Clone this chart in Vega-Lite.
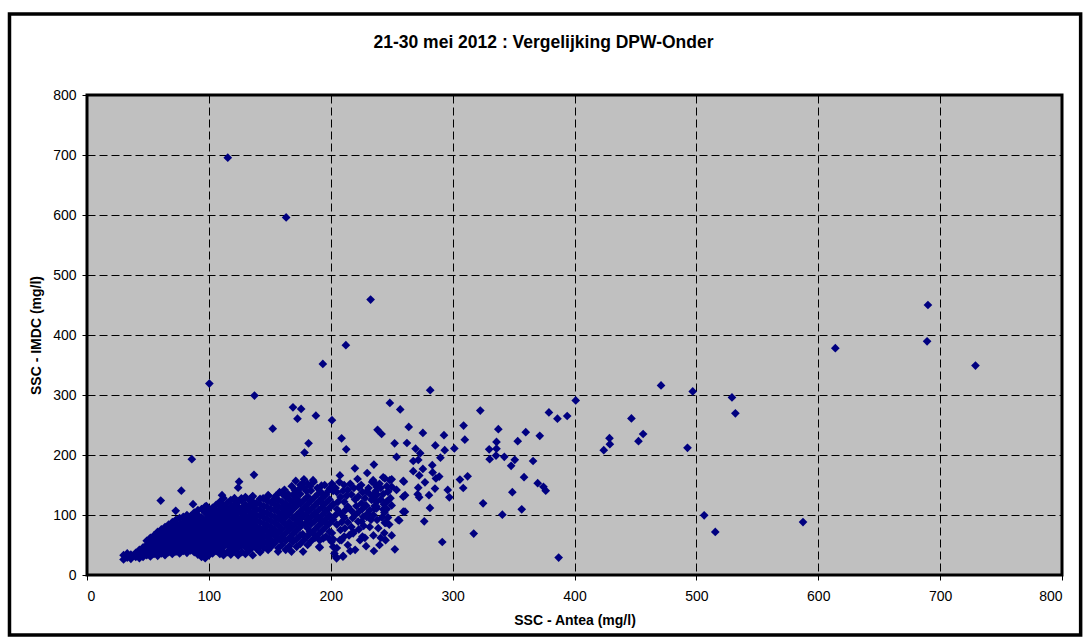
{
"$schema":"https://vega.github.io/schema/vega-lite/v6.json",
"width":975,"height":480,
"autosize":{"type":"none"},
"padding":{"left":87,"top":95,"right":26,"bottom":69},
"background":"white",
"title":{"text":"21-30 mei 2012 : Vergelijking DPW-Onder","font":"Liberation Sans","fontSize":17.5,"fontWeight":"bold","color":"black","offset":-39,"dx":-31},
"config":{"view":{"fill":"#C0C0C0","stroke":"black","strokeWidth":3}},
"layer":[
{"data":{"values":[{}]},
 "mark":{"type":"rect","fill":null,"filled":false,"stroke":"black","strokeWidth":3.5,"clip":false},
 "encoding":{"x":{"datum":-63.6,"type":"quantitative","scale":{"domain":[0,800],"nice":false}},"x2":{"datum":815.3},"y":{"datum":935,"type":"quantitative","scale":{"domain":[0,800],"nice":false}},"y2":{"datum":-100}}},
{"data":{"values":[
{"x":115.5,"y":695.5},{"x":163.4,"y":596},{"x":232.7,"y":459},{"x":212.4,"y":383},{"x":193.5,"y":351.7},{"x":100.4,"y":319},{"x":137.4,"y":299},
{"x":690,"y":450},{"x":689.3,"y":389.5},{"x":729,"y":349},{"x":614,"y":378},{"x":529.2,"y":296},{"x":532,"y":269.5},{"x":506.4,"y":99.5},{"x":515.5,"y":71.7},{"x":587.5,"y":88.3},
{"x":471,"y":316},{"x":497,"y":306},{"x":401,"y":291},{"x":379,"y":271},{"x":386,"y":260.5},{"x":394,"y":265},{"x":360,"y":238},{"x":353.4,"y":223},{"x":371.5,"y":232},{"x":446.7,"y":261},{"x":428.7,"y":228},{"x":429,"y":218},{"x":424,"y":208},{"x":456.3,"y":235},{"x":452.5,"y":223},{"x":492.7,"y":212},{"x":351,"y":192},{"x":348,"y":182},{"x":366,"y":190},{"x":358.6,"y":163},{"x":369.8,"y":153},{"x":374.5,"y":147},{"x":376.4,"y":140.5},{"x":349,"y":138},{"x":356.7,"y":109.5},{"x":387,"y":29},
{"x":281.6,"y":308},{"x":248.5,"y":286.7},{"x":257,"y":276},{"x":322.7,"y":274},{"x":238.4,"y":242},{"x":241.7,"y":235},{"x":264,"y":246.7},{"x":275.6,"y":236.7},{"x":309,"y":249},{"x":337.5,"y":243},{"x":252.4,"y":219.5},{"x":262.5,"y":220},{"x":292.9,"y":233},{"x":285.8,"y":216},{"x":310,"y":225.5},{"x":269.6,"y":210.5},{"x":273.4,"y":203},{"x":293.5,"y":208},{"x":301.4,"y":211},{"x":254,"y":196.7},{"x":290,"y":195.5},{"x":267.7,"y":190},{"x":271.8,"y":191.7},{"x":330,"y":209.5},{"x":336,"y":221.7},{"x":336,"y":210.5},{"x":335.6,"y":199},{"x":330.4,"y":193},{"x":342.4,"y":197},{"x":235.4,"y":184},{"x":275.6,"y":176.7},{"x":283.3,"y":183},{"x":283.6,"y":171},{"x":267.7,"y":173},{"x":272.6,"y":166},
{"x":234.8,"y":158},{"x":237.6,"y":147},{"x":244.4,"y":161},{"x":248.5,"y":158},{"x":250,"y":147},{"x":247,"y":139},{"x":236,"y":136},{"x":233.5,"y":125},{"x":259.5,"y":156.7},{"x":271.8,"y":145.5},{"x":277.3,"y":154.5},{"x":286.3,"y":161},{"x":289,"y":164},{"x":285.5,"y":144},{"x":296,"y":141.7},{"x":297.3,"y":129.5},{"x":306,"y":159},{"x":308.7,"y":145},{"x":312.3,"y":164.5},{"x":259.5,"y":130.5},{"x":271.3,"y":134.5},{"x":272.6,"y":129.5},{"x":280.6,"y":133},{"x":243.6,"y":118},{"x":243,"y":109.5},{"x":236.2,"y":111},{"x":281.4,"y":111.7},{"x":260.9,"y":105.5},{"x":256.2,"y":91},{"x":276.7,"y":89.5},{"x":245.3,"y":87},{"x":340.8,"y":100.5},{"x":325,"y":119.5},{"x":317.3,"y":69},{"x":291.5,"y":55},{"x":235.4,"y":40},{"x":252.6,"y":42.8},
{"x":169,"y":279.5},{"x":175.7,"y":276.7},{"x":172.7,"y":260.5},{"x":187.8,"y":265.5},{"x":201,"y":258},{"x":152.4,"y":243.8},{"x":181.8,"y":219.5},{"x":178.5,"y":204},{"x":208.9,"y":227.8},{"x":212.7,"y":209.5},{"x":219.8,"y":177.8},{"x":229.9,"y":170},{"x":207.5,"y":166},{"x":137,"y":167},{"x":124.8,"y":155.5},{"x":124,"y":145.5},{"x":171.3,"y":156.7},{"x":178,"y":159.5},{"x":185.5,"y":158},{"x":170.5,"y":141.7},{"x":183.7,"y":140.5},{"x":192.4,"y":148.8},{"x":199.3,"y":144.5},{"x":148.6,"y":133},{"x":144.5,"y":127.8},{"x":135.8,"y":130.5},{"x":126.7,"y":127.8},{"x":118.5,"y":113.8},
{"x":86,"y":193},{"x":60.5,"y":124},{"x":77.4,"y":140.5},{"x":72.8,"y":107},{"x":87,"y":118},{"x":98,"y":115},{"x":110.8,"y":133},{"x":136,"y":131.5},
{"x":243,"y":162.8},{"x":250,"y":159.5},{"x":260,"y":155.5},{"x":261,"y":133},{"x":259.5,"y":105.5},{"x":255.4,"y":91.7},{"x":244.4,"y":87},{"x":210,"y":30.5},{"x":204.8,"y":27.8},{"x":207.5,"y":58.3},{"x":218.4,"y":72},{"x":211.6,"y":77.8},{"x":226.6,"y":97},{"x":222.5,"y":89},{"x":237.6,"y":111},{"x":244.4,"y":108.3},{"x":245.8,"y":122},{"x":237.6,"y":122},{"x":225.3,"y":119.5},{"x":222.5,"y":130.5},{"x":229.4,"y":139},{"x":237.6,"y":150},{"x":247,"y":139},{"x":254,"y":141.7},{"x":193.8,"y":61},{"x":200.7,"y":55.5},{"x":191,"y":46},{"x":182.8,"y":72},{"x":176,"y":86},{"x":172,"y":47},{"x":177.3,"y":39},{"x":167.8,"y":39},{"x":156.8,"y":39},{"x":148.6,"y":41.7},
{"x":190.5,"y":47},{"x":202,"y":47},{"x":204.2,"y":30.5},{"x":210.2,"y":31.7},{"x":208.9,"y":58.3},{"x":218.4,"y":69.5},{"x":225.3,"y":89},{"x":229.4,"y":97},{"x":237.6,"y":114},
{"x":155,"y":132},{"x":158,"y":138},{"x":162,"y":142},{"x":165,"y":135},{"x":168,"y":148},{"x":171,"y":138},{"x":174,"y":143},{"x":177,"y":152},{"x":180,"y":140},{"x":183,"y":148},{"x":186,"y":155},{"x":189,"y":145},{"x":192,"y":138},{"x":195,"y":150},{"x":198,"y":140},{"x":201,"y":152},{"x":204,"y":145},{"x":207,"y":155},{"x":210,"y":140},{"x":213,"y":132},{"x":216,"y":152},{"x":219,"y":145},{"x":222,"y":160},{"x":225,"y":150},{"x":228,"y":128},{"x":231,"y":145},{"x":234,"y":155},{"x":237,"y":140},{"x":240,"y":152},{"x":243,"y":135},{"x":246,"y":148},{"x":249,"y":128},
{"x":201,"y":70},{"x":204,"y":100},{"x":206,"y":122},{"x":209,"y":88},{"x":212,"y":108},{"x":215,"y":66},{"x":218,"y":95},{"x":221,"y":115},{"x":224,"y":58},{"x":227,"y":82},{"x":230,"y":102},{"x":233,"y":92},{"x":236,"y":115},{"x":239,"y":78},{"x":242,"y":96},{"x":245,"y":58},{"x":248,"y":84},{"x":203,"y":36},{"x":216,"y":40},{"x":228,"y":62},{"x":240,"y":50},{"x":246,"y":110},
{"x":152,"y":75},{"x":156,"y":95},{"x":159,"y":58},{"x":162,"y":112},{"x":165,"y":80},{"x":168,"y":60},{"x":171,"y":93},{"x":174,"y":122},{"x":177,"y":68},{"x":179,"y":85},{"x":182,"y":108},{"x":185,"y":70},{"x":188,"y":98},{"x":191,"y":58},{"x":194,"y":118},{"x":197,"y":85},{"x":199,"y":60},
{"x":102,"y":90},{"x":105,"y":60},{"x":108,"y":118},{"x":111,"y":40},{"x":114,"y":86},{"x":117,"y":66},{"x":120,"y":104},{"x":123,"y":80},{"x":126,"y":56},{"x":129,"y":95},{"x":132,"y":112},{"x":135,"y":68},{"x":138,"y":90},{"x":141,"y":54},{"x":144,"y":102},{"x":147,"y":80},{"x":149,"y":132},
{"x":30,"y":26},{"x":30,"y":33},{"x":33,"y":29},{"x":33,"y":36},{"x":36,"y":27},{"x":36,"y":34},{"x":40,"y":30},{"x":40,"y":37},
{"x":43,"y":28},{"x":43,"y":35},{"x":43,"y":42},{"x":46,"y":30},{"x":46,"y":38},{"x":46,"y":46},
{"x":49,"y":33},{"x":49,"y":41},{"x":49,"y":50},{"x":49,"y":57},
{"x":52,"y":31},{"x":52,"y":39},{"x":52,"y":47},{"x":52,"y":55},{"x":52,"y":62},
{"x":55,"y":35},{"x":55,"y":43},{"x":55,"y":51},{"x":55,"y":59},{"x":55,"y":66},
{"x":58,"y":32},{"x":58,"y":40},{"x":58,"y":48},{"x":58,"y":56},{"x":58,"y":64},{"x":58,"y":72},
{"x":61,"y":36},{"x":61,"y":44},{"x":61,"y":52},{"x":61,"y":60},{"x":61,"y":68},{"x":61,"y":76},
{"x":64,"y":33},{"x":64,"y":41},{"x":64,"y":49},{"x":64,"y":57},{"x":64,"y":65},{"x":64,"y":73},{"x":64,"y":80},
{"x":67,"y":38},{"x":67,"y":46},{"x":67,"y":54},{"x":67,"y":62},{"x":67,"y":70},{"x":67,"y":78},{"x":67,"y":84},
{"x":70,"y":35},{"x":70,"y":43},{"x":70,"y":51},{"x":70,"y":59},{"x":70,"y":67},{"x":70,"y":75},{"x":70,"y":83},{"x":70,"y":88},
{"x":73,"y":39},{"x":73,"y":47},{"x":73,"y":55},{"x":73,"y":63},{"x":73,"y":71},{"x":73,"y":79},{"x":73,"y":87},{"x":73,"y":92},
{"x":76,"y":36},{"x":76,"y":44},{"x":76,"y":52},{"x":76,"y":60},{"x":76,"y":68},{"x":76,"y":76},{"x":76,"y":84},{"x":76,"y":95},
{"x":79,"y":40},{"x":79,"y":48},{"x":79,"y":56},{"x":79,"y":64},{"x":79,"y":72},{"x":79,"y":80},{"x":79,"y":88},{"x":79,"y":97},
{"x":82,"y":37},{"x":82,"y":45},{"x":82,"y":53},{"x":82,"y":61},{"x":82,"y":69},{"x":82,"y":77},{"x":82,"y":85},{"x":82,"y":93},{"x":82,"y":100},
{"x":85,"y":41},{"x":85,"y":49},{"x":85,"y":57},{"x":85,"y":65},{"x":85,"y":73},{"x":85,"y":81},{"x":85,"y":89},{"x":85,"y":98},
{"x":88,"y":38},{"x":88,"y":46},{"x":88,"y":54},{"x":88,"y":62},{"x":88,"y":70},{"x":88,"y":78},{"x":88,"y":86},{"x":88,"y":94},{"x":88,"y":104},
{"x":91,"y":34},{"x":91,"y":42},{"x":91,"y":50},{"x":91,"y":58},{"x":91,"y":66},{"x":91,"y":74},{"x":91,"y":82},{"x":91,"y":90},{"x":91,"y":100},{"x":91,"y":108},
{"x":94,"y":30},{"x":94,"y":39},{"x":94,"y":47},{"x":94,"y":55},{"x":94,"y":63},{"x":94,"y":71},{"x":94,"y":79},{"x":94,"y":87},{"x":94,"y":96},{"x":94,"y":110},
{"x":97,"y":28},{"x":97,"y":36},{"x":97,"y":44},{"x":97,"y":52},{"x":97,"y":60},{"x":97,"y":68},{"x":97,"y":76},{"x":97,"y":84},{"x":97,"y":92},{"x":97,"y":104},{"x":97,"y":114},
{"x":100,"y":33},{"x":100,"y":41},{"x":100,"y":49},{"x":100,"y":57},{"x":100,"y":65},{"x":100,"y":73},{"x":100,"y":81},{"x":100,"y":89},{"x":100,"y":98},{"x":100,"y":107},
{"x":103,"y":36},{"x":103,"y":45},{"x":103,"y":53},{"x":103,"y":61},{"x":103,"y":69},{"x":103,"y":77},{"x":103,"y":85},{"x":103,"y":94},{"x":103,"y":102},{"x":103,"y":112},
{"x":106,"y":40},{"x":106,"y":48},{"x":106,"y":56},{"x":106,"y":64},{"x":106,"y":72},{"x":106,"y":80},{"x":106,"y":88},{"x":106,"y":96},{"x":106,"y":106},{"x":106,"y":117},
{"x":109,"y":35},{"x":109,"y":43},{"x":109,"y":52},{"x":109,"y":60},{"x":109,"y":68},{"x":109,"y":76},{"x":109,"y":84},{"x":109,"y":92},{"x":109,"y":100},{"x":109,"y":110},{"x":109,"y":122},
{"x":112,"y":33},{"x":112,"y":47},{"x":112,"y":55},{"x":112,"y":63},{"x":112,"y":71},{"x":112,"y":79},{"x":112,"y":87},{"x":112,"y":95},{"x":112,"y":104},{"x":112,"y":115},{"x":112,"y":128},
{"x":115,"y":38},{"x":115,"y":51},{"x":115,"y":59},{"x":115,"y":67},{"x":115,"y":75},{"x":115,"y":83},{"x":115,"y":91},{"x":115,"y":99},{"x":115,"y":108},{"x":115,"y":120},
{"x":118,"y":34},{"x":118,"y":44},{"x":118,"y":55},{"x":118,"y":63},{"x":118,"y":71},{"x":118,"y":79},{"x":118,"y":87},{"x":118,"y":96},{"x":118,"y":104},{"x":118,"y":113},{"x":118,"y":125},
{"x":121,"y":40},{"x":121,"y":49},{"x":121,"y":58},{"x":121,"y":66},{"x":121,"y":74},{"x":121,"y":82},{"x":121,"y":91},{"x":121,"y":100},{"x":121,"y":109},{"x":121,"y":118},{"x":121,"y":128},
{"x":124,"y":33},{"x":124,"y":45},{"x":124,"y":54},{"x":124,"y":62},{"x":124,"y":70},{"x":124,"y":78},{"x":124,"y":87},{"x":124,"y":95},{"x":124,"y":105},{"x":124,"y":114},{"x":124,"y":122},
{"x":127,"y":38},{"x":127,"y":50},{"x":127,"y":60},{"x":127,"y":68},{"x":127,"y":76},{"x":127,"y":84},{"x":127,"y":93},{"x":127,"y":102},{"x":127,"y":111},{"x":127,"y":124},
{"x":130,"y":35},{"x":130,"y":46},{"x":130,"y":56},{"x":130,"y":64},{"x":130,"y":73},{"x":130,"y":82},{"x":130,"y":90},{"x":130,"y":99},{"x":130,"y":108},{"x":130,"y":117},{"x":130,"y":130},
{"x":133,"y":41},{"x":133,"y":52},{"x":133,"y":61},{"x":133,"y":70},{"x":133,"y":79},{"x":133,"y":88},{"x":133,"y":97},{"x":133,"y":106},{"x":133,"y":116},{"x":133,"y":125},
{"x":136,"y":33},{"x":136,"y":47},{"x":136,"y":57},{"x":136,"y":66},{"x":136,"y":75},{"x":136,"y":85},{"x":136,"y":94},{"x":136,"y":103},{"x":136,"y":113},{"x":136,"y":122},
{"x":139,"y":44},{"x":139,"y":53},{"x":139,"y":63},{"x":139,"y":72},{"x":139,"y":81},{"x":139,"y":91},{"x":139,"y":100},{"x":139,"y":110},{"x":139,"y":120},
{"x":142,"y":38},{"x":142,"y":49},{"x":142,"y":60},{"x":142,"y":69},{"x":142,"y":78},{"x":142,"y":88},{"x":142,"y":98},{"x":142,"y":108},{"x":142,"y":118},{"x":142,"y":127},
{"x":145,"y":45},{"x":145,"y":55},{"x":145,"y":65},{"x":145,"y":76},{"x":145,"y":86},{"x":145,"y":96},{"x":145,"y":105},{"x":145,"y":115},
{"x":148,"y":52},{"x":148,"y":62},{"x":148,"y":72},{"x":148,"y":83},{"x":148,"y":93},{"x":148,"y":103},{"x":148,"y":113},{"x":148,"y":123},
{"x":151,"y":47},{"x":151,"y":58},{"x":151,"y":69},{"x":151,"y":80},{"x":151,"y":90},{"x":151,"y":100},{"x":151,"y":110},{"x":151,"y":121},
{"x":154,"y":53},{"x":154,"y":65},{"x":154,"y":76},{"x":154,"y":87},{"x":154,"y":97},{"x":154,"y":108},{"x":154,"y":118},{"x":154,"y":128},
{"x":157,"y":45},{"x":157,"y":60},{"x":157,"y":71},{"x":157,"y":83},{"x":157,"y":95},{"x":157,"y":105},{"x":157,"y":115},{"x":157,"y":125},
{"x":160,"y":50},{"x":160,"y":64},{"x":160,"y":77},{"x":160,"y":90},{"x":160,"y":101},{"x":160,"y":112},{"x":160,"y":122},{"x":160,"y":136},
{"x":163,"y":42},{"x":163,"y":57},{"x":163,"y":70},{"x":163,"y":84},{"x":163,"y":96},{"x":163,"y":108},{"x":163,"y":119},{"x":163,"y":130},
{"x":166,"y":48},{"x":166,"y":62},{"x":166,"y":75},{"x":166,"y":88},{"x":166,"y":102},{"x":166,"y":114},{"x":166,"y":126},
{"x":169,"y":55},{"x":169,"y":68},{"x":169,"y":81},{"x":169,"y":95},{"x":169,"y":109},{"x":169,"y":121},{"x":169,"y":133},
{"x":172,"y":60},{"x":172,"y":74},{"x":172,"y":87},{"x":172,"y":100},{"x":172,"y":115},{"x":172,"y":128},
{"x":175,"y":52},{"x":175,"y":66},{"x":175,"y":80},{"x":175,"y":93},{"x":175,"y":106},{"x":175,"y":119},{"x":175,"y":135},{"x":175,"y":150},
{"x":178,"y":58},{"x":178,"y":99},{"x":178,"y":112},{"x":178,"y":125},{"x":178,"y":145},
{"x":181,"y":50},{"x":181,"y":65},{"x":181,"y":78},{"x":181,"y":92},{"x":181,"y":104},{"x":181,"y":118},{"x":181,"y":131},{"x":181,"y":152},
{"x":184,"y":57},{"x":184,"y":85},{"x":184,"y":97},{"x":184,"y":110},{"x":184,"y":124},
{"x":187,"y":62},{"x":187,"y":76},{"x":187,"y":90},{"x":187,"y":103},{"x":187,"y":116},{"x":187,"y":130},
{"x":190,"y":68},{"x":190,"y":82},{"x":190,"y":95},{"x":190,"y":108},{"x":190,"y":122},{"x":190,"y":136},
{"x":193,"y":74},{"x":193,"y":88},{"x":193,"y":100},{"x":193,"y":113},{"x":193,"y":128},
{"x":196,"y":64},{"x":196,"y":80},{"x":196,"y":93},{"x":196,"y":106},{"x":196,"y":120},{"x":196,"y":134},
{"x":199,"y":72},{"x":199,"y":86},{"x":199,"y":99},{"x":199,"y":112},{"x":199,"y":126},
{"x":202,"y":60},{"x":202,"y":92},{"x":202,"y":118},{"x":202,"y":140},
{"x":205,"y":45},{"x":205,"y":84},{"x":205,"y":110},{"x":205,"y":138},
{"x":208,"y":75},{"x":208,"y":103},{"x":208,"y":130},
{"x":211,"y":64},{"x":211,"y":96},{"x":211,"y":122},{"x":211,"y":150},
{"x":214,"y":50},{"x":214,"y":88},{"x":214,"y":114},{"x":214,"y":142},
{"x":217,"y":80},{"x":217,"y":107},{"x":217,"y":134},
{"x":220,"y":42},{"x":220,"y":100},{"x":220,"y":126},
{"x":223,"y":76},{"x":223,"y":105},{"x":223,"y":146},
{"x":226,"y":64},{"x":226,"y":110},{"x":226,"y":138},
{"x":229,"y":48},{"x":229,"y":116},
{"x":232,"y":80},{"x":232,"y":108},{"x":232,"y":135},
{"x":235,"y":66},{"x":235,"y":100},{"x":235,"y":128},
{"x":238,"y":92},{"x":238,"y":134},
{"x":241,"y":62},{"x":241,"y":126},{"x":241,"y":145},
{"x":244,"y":70},{"x":244,"y":104},
{"x":247,"y":96},{"x":247,"y":124},
{"x":250,"y":66},{"x":250,"y":116}
]},
 "mark":{"type":"point","shape":"diamond","filled":true,"size":76,"color":"#000080","opacity":1,"strokeWidth":0},
 "encoding":{
  "x":{"field":"x","type":"quantitative","scale":{"domain":[0,800],"nice":false,"zero":false},
   "axis":{"values":[0,100,200,300,400,500,600,700,800],"title":"SSC - Antea (mg/l)","grid":true,"gridDash":[8,4],"gridColor":"black","gridOpacity":1,"gridWidth":1,"domain":false,"tickColor":"black","tickSize":5,"tickWidth":1,"labelFont":"Liberation Sans","labelFontSize":14,"labelColor":"black","labelPadding":9,"titleFont":"Liberation Sans","titleFontSize":14,"titleFontWeight":"bold","titleColor":"black","titlePadding":10}},
  "y":{"field":"y","type":"quantitative","scale":{"domain":[0,800],"nice":false,"zero":false},
   "axis":{"values":[0,100,200,300,400,500,600,700,800],"title":"SSC - IMDC (mg/l)","grid":true,"gridDash":[8,4],"gridColor":"black","gridOpacity":1,"gridWidth":1,"domain":false,"tickColor":"black","tickSize":5,"tickWidth":1,"labelFont":"Liberation Sans","labelFontSize":14,"labelColor":"black","labelPadding":6,"titleFont":"Liberation Sans","titleFontSize":14,"titleFontWeight":"bold","titleColor":"black","titlePadding":9}}
 }}
]
}
